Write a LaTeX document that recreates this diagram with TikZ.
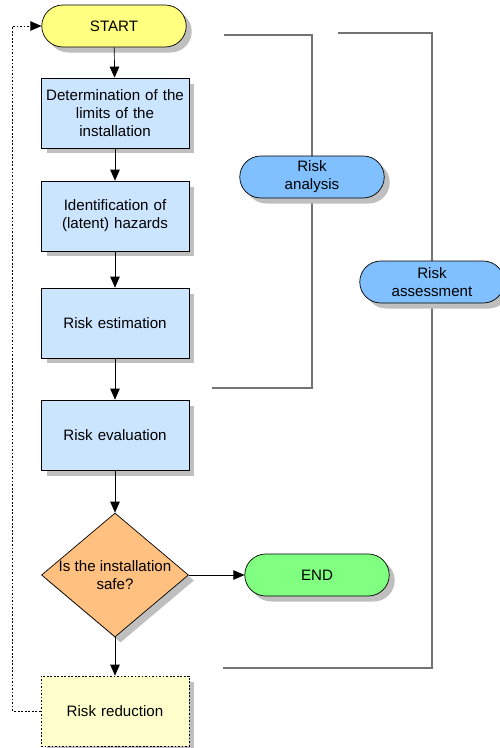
\documentclass[tikz,border=0pt]{standalone}
\usepackage{fontspec}
\setmainfont{Liberation Sans}
\usetikzlibrary{shapes.geometric,shapes.misc,shadows,arrows.meta,positioning}

\definecolor{startyellow}{RGB}{255,255,128}
\definecolor{stepblue}{RGB}{204,229,255}
\definecolor{phaseblue}{RGB}{128,192,255}
\definecolor{askorange}{RGB}{255,192,128}
\definecolor{endgreen}{RGB}{128,255,128}
\definecolor{reduceyellow}{RGB}{255,255,204}

\begin{document}
\begin{tikzpicture}[
x=0.02cm, y=-0.02cm,
font=\fontsize{8.6}{10.2}\selectfont,
shade/.style={drop shadow={shadow xshift=0.11cm,shadow yshift=-0.11cm,fill=black!25,opacity=1}},
terminal/.style={draw, rounded rectangle, shade, minimum width=2.96cm, minimum height=0.84cm, inner sep=1pt, align=center},
stepbox/.style={draw, shade, fill=stepblue, minimum width=2.96cm, minimum height=1.4cm, text width=2.8cm, align=center, inner sep=1pt},
decision/.style={draw, diamond, shade, fill=askorange, minimum width=2.94cm, minimum height=2.48cm, inner sep=0pt},
flow/.style={-{Triangle[length=0.22cm,width=0.19cm]}},
feedback/.style={flow, dash pattern=on 1pt off 1pt},
bracket/.style={draw=black!55, line width=0.7pt}
]

\useasboundingbox (0,0) rectangle (500,748);

%%%%%%%%%%%%%%%%%%%%%%%%%%%%%%%%%%%%%%%%%%%%%%%%%%%%%%
% BRACKETS
%%%%%%%%%%%%%%%%%%%%%%%%%%%%%%%%%%%%%%%%%%%%%%%%%%%%%%

\coordinate (analysis top) at (224,35);
\coordinate (analysis bottom) at (212,388);
\coordinate (assessment top) at (338,33);
\coordinate (assessment bottom) at (223,668);

\draw[bracket] (analysis top) -- (312,35) |- (analysis bottom);
\draw[bracket] (assessment top) -- (432,33) |- (assessment bottom);

%%%%%%%%%%%%%%%%%%%%%%%%%%%%%%%%%%%%%%%%%%%%%%%%%%%%%%
% MAIN FLOW
%%%%%%%%%%%%%%%%%%%%%%%%%%%%%%%%%%%%%%%%%%%%%%%%%%%%%%

\node[terminal, fill=startyellow]
(start) at (114,26)
{START};

\node[stepbox]
(limits) at (115,113)
{Determination of the\\limits of the\\installation};

\node[stepbox]
(hazards) at (115,216)
{Identification of\\(latent) hazards};

\node[stepbox]
(estimation) at (115,323)
{Risk estimation};

\node[stepbox]
(evaluation) at (115,435)
{Risk evaluation};

\node[decision]
(safe) at (115,575)
{};

\node[align=center]
(safe text) at (safe.center)
{Is the installation\\safe?};

\node[terminal, fill=endgreen]
(end) at (317,575)
{END};

\node[stepbox, fill=reduceyellow, dash pattern=on 1pt off 1pt]
(reduction) at (115,711)
{Risk reduction};

%%%%%%%%%%%%%%%%%%%%%%%%%%%%%%%%%%%%%%%%%%%%%%%%%%%%%%
% PHASES
%%%%%%%%%%%%%%%%%%%%%%%%%%%%%%%%%%%%%%%%%%%%%%%%%%%%%%

\node[terminal, fill=phaseblue]
(analysis) at (312,177)
{Risk\\analysis};

\node[terminal, fill=phaseblue]
(assessment) at (432,282)
{Risk\\assessment};

%%%%%%%%%%%%%%%%%%%%%%%%%%%%%%%%%%%%%%%%%%%%%%%%%%%%%%
% ARROWS
%%%%%%%%%%%%%%%%%%%%%%%%%%%%%%%%%%%%%%%%%%%%%%%%%%%%%%

\draw[flow] (start) -- (limits);
\draw[flow] (limits) -- (hazards);
\draw[flow] (hazards) -- (estimation);
\draw[flow] (estimation) -- (evaluation);
\draw[flow] (evaluation) -- (safe);
\draw[flow] (safe) -- (end);
\draw[flow] (safe) -- (reduction);
\draw[feedback] (reduction.west) -- ++(-28,0) |- (start.west);

\end{tikzpicture}
\end{document}
